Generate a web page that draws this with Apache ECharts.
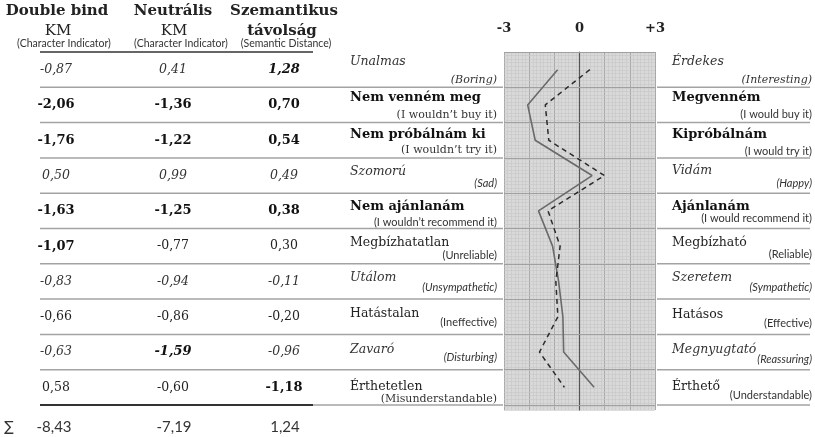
<!DOCTYPE html>
<html><head><meta charset="utf-8">
<script src="https://cdn.jsdelivr.net/npm/echarts@6/dist/echarts.min.js"></script>
<style>html,body{margin:0;padding:0;background:#fff}#c{width:815px;height:437px}</style>
</head><body><div id="c"></div><script>
// ---------- data ----------
const leftTerms = ['Unalmas','Nem venném meg','Nem próbálnám ki','Szomorú','Nem ajánlanám','Megbízhatatlan','Utálom','Hatástalan','Zavaró','Érthetetlen'];
const leftTermsEn = ['(Boring)','(I wouldn\u2019t buy it)','(I wouldn\u2019t try it)','(Sad)','(I wouldn\u2019t recommend it)','(Unreliable)','(Unsympathetic)','(Ineffective)','(Disturbing)','(Misunderstandable)'];
const rightTerms = ['Érdekes','Megvenném','Kipróbálnám','Vidám','Ajánlanám','Megbízható','Szeretem','Hatásos','Megnyugtató','Érthető'];
const rightTermsEn = ['(Interesting)','(I would buy it)','(I would try it)','(Happy)','(I would recommend it)','(Reliable)','(Sympathetic)','(Effective)','(Reassuring)','(Understandable)'];
const doubleBindKM = [-0.87, -2.06, -1.76, 0.50, -1.63, -1.07, -0.83, -0.66, -0.63, 0.58];
const neutralKM = [0.41, -1.36, -1.22, 0.99, -1.25, -0.77, -0.94, -0.86, -1.59, -0.60];
const semanticDistance = [1.28, 0.70, 0.54, 0.49, 0.38, 0.30, -0.11, -0.20, -0.96, -1.18];
const columnSums = [-8.43, -7.19, 1.24];
const scaleTicks = [-3, 0, 3];
const headers = [
  ['Double bind', 'KM', '(Character Indicator)'],
  ['Neutrális', 'KM', '(Character Indicator)'],
  ['Szemantikus', 'távolság', '(Semantic Distance)']
];

// ---------- styles / layout ----------
const SERIF = 'DejaVu Serif', SANS = 'Lato';
const dbStyle = ['i','b','b','i','b','b','i','n','i','n'];
const neStyle = ['i','b','b','i','b','n','i','n','bi','n'];
const sdStyle = ['bi','b','b','i','b','n','i','n','i','b'];
const termStyle = ['i','b','b','i','b','n','i','n','i','n'];
const leftSubStyle = ['si','sn','sn','ai','an','an','ai','an','ai','sn'];
const rightSubStyle = ['si','an','an','ai','an','an','ai','an','ai','an'];
// [main offset, sub offset] from row centre (px)
const leftDy = [[-7.6,10.4],[-7,10],[-5.2,9.8],[-3.6,7.5],[-3.9,11.2],[-3.2,8.9],[-3.5,5.6],[-2.8,5.3],[-2,5],[-0.5,11.6]];
const rightDy = [[-7.6,10.4],[-7,10],[-5.2,10.8],[-4.5,7.5],[-3.9,7.2],[-3.2,7.9],[-3.5,5.6],[-1.8,6.3],[-2,7],[-0.5,8.6]];

const GL = 504, GR = 160, GT = 52, GB = 32;
const fmt = v => v.toFixed(2).replace('.', ',');
const numRich = {
  n: {fontFamily: SERIF, fontSize: 12.5, color: '#222'},
  i: {fontFamily: SERIF, fontSize: 12.5, fontStyle: 'italic', color: '#333'},
  b: {fontFamily: SERIF, fontSize: 13, fontWeight: 'bold', color: '#111'},
  bi: {fontFamily: SERIF, fontSize: 13, fontWeight: 'bold', fontStyle: 'italic', color: '#111'}
};
const mainFont = {
  n: {fontFamily: SERIF, fontSize: 12.5, color: '#222'},
  i: {fontFamily: SERIF, fontSize: 12.5, fontStyle: 'italic', color: '#333'},
  b: {fontFamily: SERIF, fontSize: 13, fontWeight: 'bold', color: '#111'}
};
const subFont = {
  sn: {fontFamily: SERIF, fontSize: 11, color: '#333'},
  si: {fontFamily: SERIF, fontSize: 11, fontStyle: 'italic', color: '#333'},
  an: {fontFamily: SANS, fontSize: 11, color: '#333'},
  ai: {fontFamily: SANS, fontSize: 11, fontStyle: 'italic', color: '#333'}
};
function termRich(dy, subStyle) {
  const r = {};
  dy.forEach((d, i) => {
    r['m' + i] = Object.assign({}, mainFont[termStyle[i]], {lineHeight: Math.max(1, 2 * d[1])});
    r['s' + i] = Object.assign({}, subFont[subStyle[i]], {lineHeight: Math.max(1, -2 * d[0]), align: 'right'});
  });
  return r;
}

const baseCat = {
  type: 'category', gridIndex: 0, data: leftTerms, inverse: true,
  axisLine: {show: false}, axisTick: {show: false}, splitLine: {show: false}
};
function numAxis(values, styles, center) {
  return Object.assign({}, baseCat, {
    position: 'left', offset: GL - center,
    axisLabel: {interval: 0, margin: 0, align: 'center',
      formatter: (v, i) => '{' + styles[i] + '|' + fmt(values[i]) + '}', rich: numRich}
  });
}

const chart = echarts.init(document.getElementById('c'), null, {renderer: 'canvas'});
const last = leftTerms.length - 1;

const graphics = [];
const hx = [57, 173, 284];
const subx = [64, 181, 286];
headers.forEach((h, k) => {
  graphics.push({type: 'text', left: 'auto', x: hx[k], y: 11, style: {text: h[0], textAlign: 'center', textVerticalAlign: 'middle', font: 'bold 15px "DejaVu Serif"', fill: '#222'}});
  graphics.push({type: 'text', x: hx[k] + (k === 2 ? -2 : 1), y: 31, style: {text: h[1], textAlign: 'center', textVerticalAlign: 'middle', font: (k === 2 ? 'bold ' : '') + '15px "DejaVu Serif"', fill: '#222'}});
  graphics.push({type: 'text', x: subx[k], y: 44, style: {text: h[2], textAlign: 'center', textVerticalAlign: 'middle', font: '10.5px Lato', fill: '#333'}});
});
graphics.push({type: 'text', x: 9, y: 427, style: {text: '\u2211', textAlign: 'center', textVerticalAlign: 'middle', font: '14px "DejaVu Sans"', fill: '#333'}});
columnSums.forEach((s, k) => {
  graphics.push({type: 'text', x: [54, 174, 285][k], y: 427, style: {text: fmt(s), textAlign: 'center', textVerticalAlign: 'middle', font: '15px Lato', fill: '#333'}});
});

chart.setOption({
  animation: false,
  backgroundColor: '#fff',
  graphic: graphics,
  grid: [
    {left: GL, right: GR, top: GT, bottom: GB, show: false, z: 2},
    {left: GL, right: GR, top: GT, bottom: 27, show: true, backgroundColor: '#d9d9d9', borderWidth: 0, z: 0}
  ],
  xAxis: [
    {type: 'value', gridIndex: 0, position: 'top', min: scaleTicks[0], max: scaleTicks[2], interval: 3,
      axisLine: {show: false}, axisTick: {show: false}, splitLine: {show: false},
      axisLabel: {margin: 17, color: '#222', fontFamily: SERIF, fontWeight: 'bold', fontSize: 13,
        formatter: v => (v > 0 ? '+' + v : String(v))}},
    {type: 'value', gridIndex: 1, min: scaleTicks[0], max: scaleTicks[2], interval: 1, z: 0,
      axisLine: {show: false}, axisTick: {show: false}, axisLabel: {show: false},
      splitLine: {show: true, lineStyle: {color: '#a9a9a9', width: 1}},
      minorTick: {show: false, splitNumber: 7},
      minorSplitLine: {show: true, lineStyle: {color: '#c6c6c6', width: 0.6}}}
  ],
  yAxis: [
    Object.assign({}, baseCat, {z: 2, axisLabel: {show: false},
      splitLine: {show: true, lineStyle: {color: '#a0a0a0', width: 1}}}),
    {type: 'value', gridIndex: 1, min: 0, max: 100, interval: 1, z: 1,
      axisLine: {show: true, onZero: true, lineStyle: {color: '#555', width: 1.2}},
      axisTick: {show: false}, axisLabel: {show: false},
      splitLine: {show: true, lineStyle: {color: '#c6c6c6', width: 0.6}}},
    numAxis(doubleBindKM, dbStyle, 56),
    numAxis(neutralKM, neStyle, 173),
    numAxis(semanticDistance, sdStyle, 284),
    Object.assign({}, baseCat, {position: 'left', offset: GL - 350,
      axisLabel: {interval: 0, margin: 0, align: 'left', width: 147, overflow: 'none',
        formatter: (v, i) => '{m' + i + '|' + leftTerms[i] + '}\n{s' + i + '|' + leftTermsEn[i] + '}',
        rich: termRich(leftDy, leftSubStyle)}}),
    Object.assign({}, baseCat, {position: 'right', offset: 672 - (815 - GR),
      axisLabel: {interval: 0, margin: 0, align: 'left', width: 140, overflow: 'none',
        formatter: (v, i) => '{m' + i + '|' + rightTerms[i] + '}\n{s' + i + '|' + rightTermsEn[i] + '}',
        rich: termRich(rightDy, rightSubStyle)}})
  ],
  series: [
    {type: 'custom', xAxisIndex: 0, yAxisIndex: 0, silent: true, clip: false, z: 1,
      data: leftTerms.map((t, i) => [0, i]), encode: {x: 0, y: 1},
      renderItem(params, api) {
        const i = api.value(1);
        const c = api.coord([0, i]);
        const band = api.size([0, 1])[1];
        const yb = c[1] + band / 2;
        const xl = api.coord([scaleTicks[0], i])[0];
        const xr = api.coord([scaleTicks[2], i])[0];
        const rule = {stroke: '#a3a3a3', lineWidth: 1.5};
        const ch = [
          {type: 'line', shape: {x1: 40, y1: yb, x2: xl - 1, y2: yb}, style: rule},
          {type: 'line', shape: {x1: xr + 2, y1: yb, x2: 810, y2: yb}, style: rule}
        ];
        if (i === 0) ch.push({type: 'line', shape: {x1: 40, y1: c[1] - band / 2, x2: 313, y2: c[1] - band / 2}, style: {stroke: '#333', lineWidth: 1.5}});
        if (i === last) ch.push({type: 'line', shape: {x1: 40, y1: yb, x2: 313, y2: yb}, style: {stroke: '#333', lineWidth: 2.2}});
        return {type: 'group', children: ch};
      }},
    {name: 'Double bind KM', type: 'line', xAxisIndex: 0, yAxisIndex: 0, data: doubleBindKM, z: 4,
      symbol: 'none', lineStyle: {color: '#6a6a6a', width: 1.6}},
    {name: 'Neutrális KM', type: 'line', xAxisIndex: 0, yAxisIndex: 0, data: neutralKM, z: 5,
      symbol: 'none', lineStyle: {color: '#2b2b2b', width: 1.5, type: [5, 4]}}
  ]
});
</script></body></html>
